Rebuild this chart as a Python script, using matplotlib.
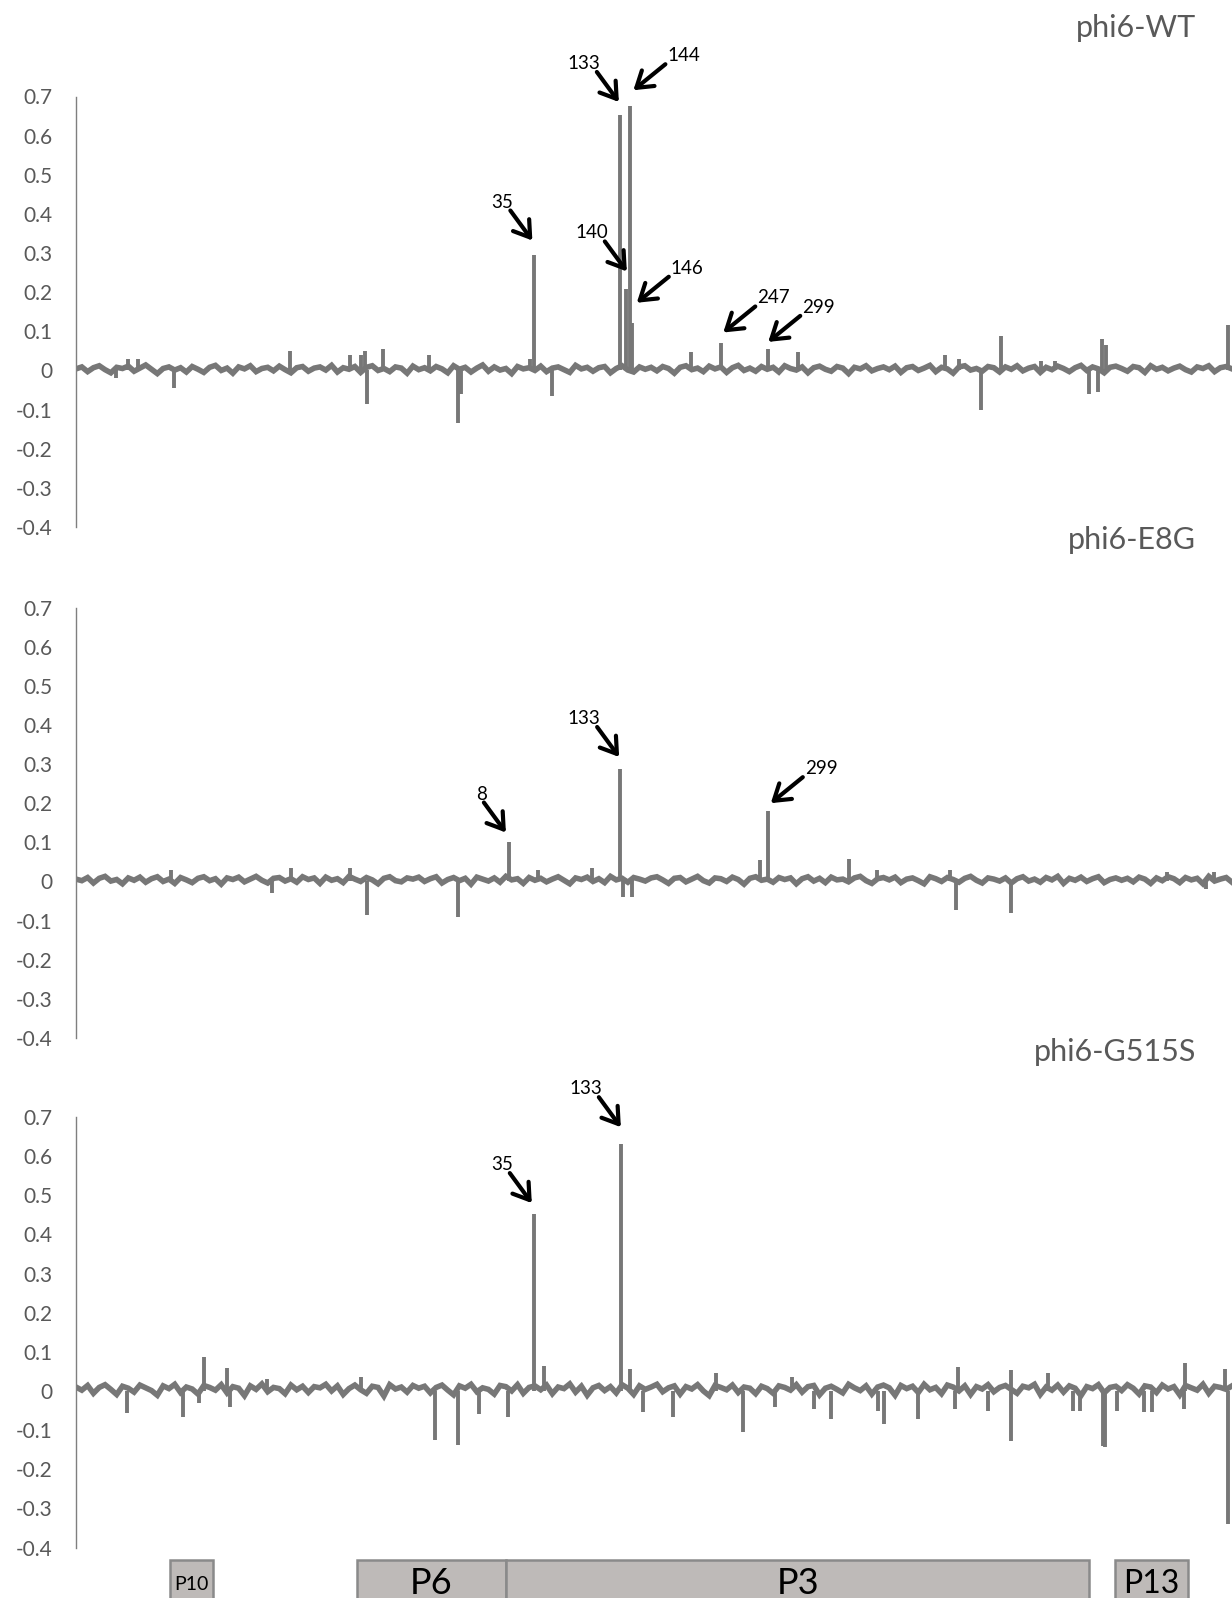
#!/usr/bin/env python3
"""Per-position difference traces for three phi6 variants along segment M."""

import matplotlib
matplotlib.use("Agg")
import matplotlib.pyplot as plt
import numpy as np
from matplotlib.patches import Rectangle

SEGMENT_LENGTH = 4063

PANEL_TITLES = ["phi6-WT", "phi6-E8G", "phi6-G515S"]
Y_TICKS = [0.7, 0.6, 0.5, 0.4, 0.3, 0.2, 0.1, 0, -0.1, -0.2, -0.3, -0.4]
Y_TICK_LABELS = ["0.7", "0.6", "0.5", "0.4", "0.3", "0.2", "0.1", "0",
                 "-0.1", "-0.2", "-0.3", "-0.4"]

# background jitter along the segment (thousandths)
WT_NOISE = [
    4, 9, -3, 7, 12, 2, -6, 8, 5, 11, -2, 6, 14, 3, -8, 5, 9, 1, 7, -4,
    10, 3, -5, 8, 13, 0, 6, -7, 9, 4, 12, -3, 5, 8, -1, 11, 2, -6, 7, 10,
    -2, 6, 9, 1, 13, -4, 7, 3, 10, -5, 8, 12, 0, 5, -3, 9, 6, -7, 11, 2,
    7, -1, 10, 4, -6, 12, 3, 8, -4, 6, 14, -2, 9, 1, 5, -8, 10, 4, 7, 0,
    11, -3, 6, 9, 2, -5, 13, 4, 8, -2, 7, 10, -6, 5, 12, 1, -4, 9, 3, 8,
    -1, 10, 5, -7, 8, 12, 2, 6, -3, 11, 4, 9, -5, 7, 13, 0, 6, -2, 10, 3,
    8, -4, 12, 5, 1, 9, -6, 7, 11, 3, -2, 10, 6, -8, 8, 4, 12, -1, 5, 9,
    2, 11, -5, 7, 10, 0, 6, 13, -3, 8, 4, -7, 9, 12, 1, 5, -2, 10, 7, -4,
    9, 3, 12, -1, 6, 10, -5, 8, 2, 11, 5, -3, 7, 13, 0, 9, 4, -6, 8, 11,
    5, -2, 10, 7, -5, 12, 3, 8, -1, 6, 11, 2, -4, 9, 5, 12, -3, 7, 10, 4,
]
E8G_NOISE = [
    6, 2, 10, -4, 8, 13, 1, 5, -6, 9, 3, 11, -2, 7, 12, 0, 6, -5, 10, 4,
    -3, 8, 12, 2, 7, -7, 9, 5, 11, -1, 6, 13, 3, -4, 8, 10, 1, 7, -2, 12,
    5, 9, -5, 11, 3, 7, -3, 13, 6, 0, 10, 4, -6, 8, 12, 2, -1, 9, 6, 11,
    0, 7, 12, -4, 5, 10, 2, 8, -7, 11, 6, 1, 9, -2, 13, 4, 7, -5, 10, 3,
    8, -1, 6, 12, 3, -6, 9, 5, 11, 0, 7, -3, 13, 4, 8, -2, 10, 6, 1, 9,
    12, 4, -5, 8, 10, -1, 6, 13, 2, -4, 9, 7, 0, 11, 5, -7, 8, 12, 3, 6,
    -2, 10, 5, 9, -6, 7, 12, 1, 8, -3, 11, 4, 6, -1, 9, 13, 2, -5, 7, 10,
    4, 11, -3, 6, 9, 2, -6, 12, 7, 0, 10, 5, -2, 8, 13, 3, -4, 9, 6, 1,
    9, -4, 7, 12, 1, 6, -2, 10, 4, 13, -5, 8, 3, 11, 0, 7, 12, -3, 5, 9,
    3, 8, -1, 11, 6, -5, 9, 2, 12, 7, -3, 10, 4, 8, -6, 13, 1, 6, 10, -2,
]
G515S_NOISE = [
    10, 2, 14, -6, 9, 16, 4, -9, 12, 7, -3, 15, 8, 1, -11, 13, 6, 17, -4, 10,
    5, -8, 14, 9, 2, 16, -5, 11, 7, -12, 13, 4, 18, -2, 9, 6, -7, 15, 3, 12,
    -4, 11, 8, 17, 0, 13, -9, 6, 15, 3, -6, 12, 9, -13, 16, 5, 10, -3, 14, 7,
    12, -5, 9, 15, 2, -10, 13, 7, 17, -2, 8, 4, -8, 14, 11, 0, 16, -6, 9, 13,
    3, 15, -7, 10, 6, 18, -3, 12, -11, 8, 14, 1, 11, -5, 16, 7, -9, 13, 4, 10,
    17, -2, 8, 13, -8, 11, 5, 16, 0, -12, 14, 9, 3, 15, -4, 10, 7, -7, 12, 6,
    -6, 13, 9, 2, 16, -3, 11, 14, -10, 7, 12, 4, -5, 17, 8, 1, 13, -8, 10, 15,
    8, -11, 14, 6, 12, -4, 17, 3, 9, -7, 15, 10, 0, 13, -9, 11, 5, 16, -2, 9,
    14, 4, -6, 12, 8, 17, -9, 10, 2, 15, -3, 13, 7, -12, 11, 6, 16, -5, 9, 12,
    1, 16, 7, -8, 13, 10, -4, 15, 5, 11, -10, 14, 8, 2, 17, -6, 12, 9, 4, 13,
]

# isolated peaks: nucleotide position and value
WT_PEAK_POS = [141, 183, 218, 344, 752, 962, 1002, 1016, 1024, 1080, 1242, 1343,
               1353, 1596, 1610, 1672, 1913, 1933, 1948, 1954, 2161, 2266, 2431,
               2538, 3055, 3104, 3180, 3250, 3391, 3441, 3561, 3592, 3606, 3620, 4049]
WT_PEAK_VAL = [-0.02, 0.03, 0.03, -0.045, 0.05, 0.04, 0.04, 0.05, -0.085, 0.055, 0.04, -0.135,
               -0.06, 0.03, 0.296, -0.066, 0.653, 0.209, 0.676, 0.122, 0.048, 0.070, 0.054,
               0.048, 0.04, 0.03, -0.10, 0.088, 0.025, 0.025, -0.06, -0.055, 0.08, 0.065, 0.115]

E8G_PEAK_POS = [334, 689, 757, 962, 1024, 1343, 1523, 1624, 1814, 1912, 1923, 1954,
                2404, 2431, 2716, 2815, 3071, 3094, 3286, 3833, 3972, 4000]
E8G_PEAK_VAL = [0.03, -0.03, 0.035, 0.035, -0.085, -0.092, 0.10, 0.03, 0.035, 0.288, -0.04, -0.04,
                0.055, 0.18, 0.057, 0.03, 0.03, -0.073, -0.081, 0.025, -0.02, 0.025]

G515S_PEAK_POS = [178, 376, 432, 450, 530, 541, 670, 1002, 1262, 1344, 1417, 1518,
                  1609, 1645, 1914, 1947, 1992, 2097, 2251, 2346, 2457, 2517, 2593,
                  2652, 2819, 2841, 2959, 3088, 3100, 3205, 3285, 3288, 3416, 3504,
                  3529, 3610, 3616, 3658, 3753, 3782, 3893, 3897, 4040, 4048]
G515S_PEAK_VAL = [-0.056, -0.066, -0.03, 0.086, 0.058, -0.04, 0.03, 0.035, -0.126, -0.139, -0.06, -0.066,
                  0.452, 0.064, 0.630, 0.055, -0.055, -0.066, 0.047, -0.104, -0.04, 0.035, -0.045,
                  -0.071, -0.05, -0.084, -0.071, -0.045, 0.061, -0.05, 0.054, -0.129, 0.047, -0.05,
                  -0.05, -0.14, -0.142, -0.05, -0.055, -0.055, -0.045, 0.071, 0.055, -0.341]

# labelled residues: label, arrow head position, arrow head value, side of the label
WT_MARKS = [("35", 1604, 0.332, "L"), ("133", 1908, 0.686, "L"), ("144", 1959, 0.716, "R"),
            ("140", 1936, 0.253, "L"), ("146", 1971, 0.173, "R"), ("247", 2275, 0.097, "R"),
            ("299", 2433, 0.073, "R")]
E8G_MARKS = [("8", 1511, 0.125, "L"), ("133", 1909, 0.318, "L"), ("299", 2442, 0.200, "R")]
G515S_MARKS = [("35", 1602, 0.480, "L"), ("133", 1915, 0.674, "L")]

GENE_NAMES = ["P10", "P6", "P3", "P13"]
GENE_START = [330, 986, 1513, 3652]
GENE_END = [482, 1513, 3561, 3909]
GENE_FONT = [14, 26, 26, 23]

FIG_W, FIG_H = 1232, 1598
TRACE = "#777777"
TEXT_GRAY = "#595959"


def _panel(fig, top_px, noise, peak_pos, peak_val, marks, title, title_y):
    left = 76 / FIG_W
    height = 430.5 / FIG_H
    ax = fig.add_axes([left, 1 - top_px / FIG_H - height, 1 - left, height])
    ax.set_xlim(0, SEGMENT_LENGTH)
    ax.set_ylim(-0.4, 0.7)
    for side in ("top", "right", "bottom"):
        ax.spines[side].set_visible(False)
    ax.spines["left"].set_color("#7f7f7f")
    ax.spines["left"].set_linewidth(1.0)
    ax.set_xticks([])
    ax.set_yticks(Y_TICKS)
    ax.set_yticklabels(Y_TICK_LABELS)
    ax.tick_params(axis="y", length=0, pad=17, labelsize=15, labelcolor=TEXT_GRAY)

    xs = np.linspace(0, SEGMENT_LENGTH, len(noise))
    ax.plot(xs, np.array(noise) / 1000.0, color=TRACE, lw=4.0, solid_joinstyle="miter")
    ax.vlines(peak_pos, 0, peak_val, color=TRACE, lw=2.8)

    for label, x, y, side in marks:
        if side == "L":
            dx, dy, ha = -22, 30, "right"
        else:
            dx, dy, ha = 32, 26, "left"
        ax.annotate("", xy=(x, y), xytext=(dx, dy), textcoords="offset pixels",
                    annotation_clip=False,
                    arrowprops=dict(arrowstyle="->,head_length=0.55,head_width=0.36",
                                    lw=3.0, color="black", shrinkA=0, shrinkB=0,
                                    mutation_scale=20))
        tx = dx + (2 if side == "R" else 3)
        ax.annotate(label, xy=(x, y), xytext=(tx, dy + 3), textcoords="offset pixels",
                    annotation_clip=False,
                    ha=ha, va="baseline", fontsize=13.5, color="black")

    fig.text(1196 / FIG_W, 1 - title_y / FIG_H, title, ha="right", va="center",
             fontsize=22, color=TEXT_GRAY)
    return ax


def _genes(fig):
    left = 76 / FIG_W
    ax = fig.add_axes([left, 0, 1 - left, 40 / FIG_H])
    ax.set_xlim(0, SEGMENT_LENGTH)
    ax.set_ylim(0, 40)
    ax.axis("off")
    for name, start, end, size in zip(GENE_NAMES, GENE_START, GENE_END, GENE_FONT):
        ax.add_patch(Rectangle((start, -5), end - start, 43, facecolor="#bebab8",
                               edgecolor="#8a8a8a", lw=1.8, clip_on=False))
        ax.text((start + end) / 2, 14, name, ha="center", va="center",
                fontsize=size, color="black")


def main():
    plt.rcParams["font.family"] = ["Lato", "DejaVu Sans"]
    fig = plt.figure(figsize=(FIG_W / 100, FIG_H / 100), dpi=100)
    _panel(fig, 96.5, WT_NOISE, WT_PEAK_POS, WT_PEAK_VAL, WT_MARKS, PANEL_TITLES[0], 28)
    _panel(fig, 607.5, E8G_NOISE, E8G_PEAK_POS, E8G_PEAK_VAL, E8G_MARKS, PANEL_TITLES[1], 540)
    _panel(fig, 1117.0, G515S_NOISE, G515S_PEAK_POS, G515S_PEAK_VAL, G515S_MARKS,
           PANEL_TITLES[2], 1052)
    _genes(fig)
    fig.savefig("out.png", dpi=100)
    plt.close(fig)


if __name__ == "__main__":
    main()
